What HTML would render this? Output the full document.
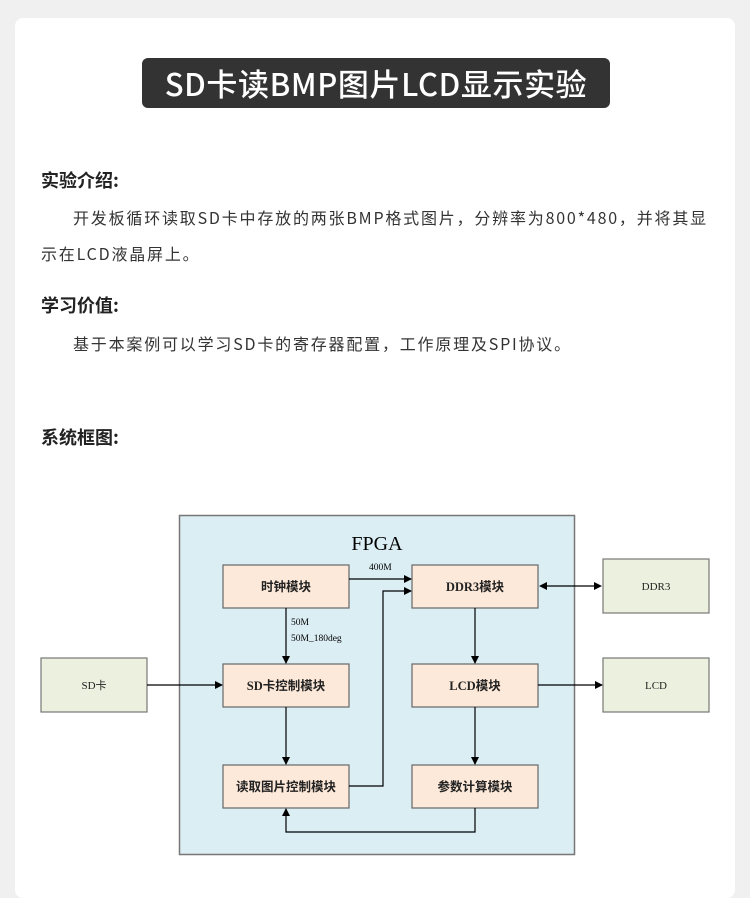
<!DOCTYPE html>
<html><head><meta charset="utf-8"><style>
body{margin:0;width:750px;height:872px;background:#f0f0f0;overflow:hidden;font-family:"Noto Sans CJK SC","Liberation Sans",sans-serif;}
.card{position:absolute;left:15px;top:18px;width:720px;height:880px;background:#fff;border-radius:8px;}
.title{position:absolute;left:142px;top:58px;width:468px;height:50px;background:#333;border-radius:6px;color:#fff;font-size:31px;font-weight:500;text-align:center;line-height:50px;letter-spacing:0.6px;}
.h{position:absolute;left:41px;font-size:18px;font-weight:bold;color:#222;line-height:26px;}
.p{position:absolute;left:41px;font-size:16px;color:#333;line-height:36px;width:700px;white-space:nowrap;letter-spacing:1.8px;}
.i{display:inline-block;width:32px;}
</style></head><body>
<div class="card"></div>
<div class="title">SD卡读BMP图片LCD显示实验</div>
<div class="h" style="top:167px">实验介绍:</div>
<div class="p" style="top:199px"><span class="i"></span>开发板循环读取SD卡中存放的两张BMP格式图片，分辨率为800*480，并将其显<br>示在LCD液晶屏上。</div>
<div class="h" style="top:292px">学习价值:</div>
<div class="p" style="top:325px"><span class="i"></span>基于本案例可以学习SD卡的寄存器配置，工作原理及SPI协议。</div>
<div class="h" style="top:424px">系统框图:</div>
<svg style="position:absolute;left:0;top:0" width="750" height="872" font-family="Liberation Serif,Noto Serif CJK SC,serif">
<defs><marker id="a" markerWidth="8" markerHeight="8" refX="7" refY="4" orient="auto" markerUnits="userSpaceOnUse"><path d="M0,0 L8,4 L0,8z" fill="#000"/></marker></defs>
<rect x="179.5" y="515.5" width="395" height="339" fill="#dbeef4" stroke="#777" stroke-width="1.5"/>
<text x="377" y="550" font-size="20" text-anchor="middle">FPGA</text>
<g fill="#fde9d9" stroke="#666" stroke-width="1.2">
<rect x="223" y="565" width="126" height="43"/><rect x="412" y="565" width="126" height="43"/>
<rect x="223" y="664" width="126" height="43"/><rect x="412" y="664" width="126" height="43"/>
<rect x="223" y="765" width="126" height="43"/><rect x="412" y="765" width="126" height="43"/>
</g>
<g fill="#ebf1de" stroke="#777" stroke-width="1.2">
<rect x="41" y="658" width="106" height="54"/><rect x="603" y="559" width="106" height="54"/><rect x="603" y="658" width="106" height="54"/>
</g>
<g font-size="12.5" text-anchor="middle" font-weight="bold" fill="#222" font-family="Liberation Serif,Noto Sans CJK SC,serif">
<text x="286" y="591">时钟模块</text><text x="475" y="591">DDR3模块</text>
<text x="286" y="690">SD卡控制模块</text><text x="475" y="690">LCD模块</text>
<text x="286" y="791">读取图片控制模块</text><text x="475" y="791">参数计算模块</text>
</g>
<g font-size="11" text-anchor="middle" fill="#222" font-family="Liberation Serif,Noto Sans CJK SC,serif">
<text x="94" y="689">SD卡</text><text x="656" y="590">DDR3</text><text x="656" y="689">LCD</text>
</g>
<g font-size="9.5"><text x="369" y="570">400M</text><text x="291" y="625">50M</text><text x="291" y="641">50M_180deg</text></g>
<g stroke="#000" stroke-width="1.2" fill="none">
<line x1="349" y1="579" x2="411" y2="579" marker-end="url(#a)"/>
<polyline points="349,786 383,786 383,591 411,591" marker-end="url(#a)"/>
<line x1="286" y1="608" x2="286" y2="663" marker-end="url(#a)"/>
<line x1="286" y1="707" x2="286" y2="764" marker-end="url(#a)"/>
<line x1="475" y1="608" x2="475" y2="663" marker-end="url(#a)"/>
<line x1="475" y1="707" x2="475" y2="764" marker-end="url(#a)"/>
<polyline points="475,808 475,832 286,832 286,809" marker-end="url(#a)"/>
<line x1="147" y1="685" x2="222" y2="685" marker-end="url(#a)"/>
<line x1="538" y1="685" x2="602" y2="685" marker-end="url(#a)"/>
<line x1="545" y1="586" x2="596" y2="586"/>
</g>
<path d="M539,586 L547,582 L547,590z M602,586 L594,582 L594,590z" fill="#000"/>
</svg>
</body></html>
